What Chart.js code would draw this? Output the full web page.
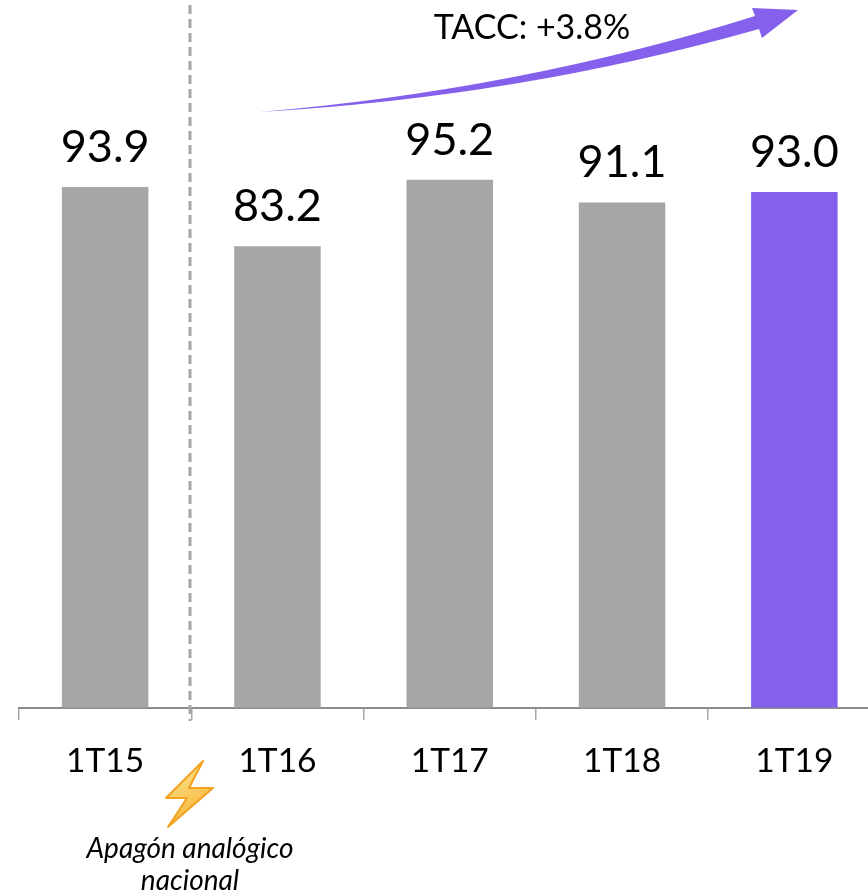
<!DOCTYPE html>
<html><head><meta charset="utf-8">
<script src="https://cdn.jsdelivr.net/npm/chart.js@4"></script>
<style>html,body{margin:0;padding:0;background:#fff;overflow:hidden;width:868px;height:896px}
#w{position:absolute;left:0;top:0;width:900px;height:896px}</style></head>
<body><div id="w"><canvas id="c" width="900" height="896"></canvas></div>
<script>
const categories = ["1T15","1T16","1T17","1T18","1T19"];
const values = [93.9,83.2,95.2,91.1,93.0];
const barColors = ["#a6a6a6","#a6a6a6","#a6a6a6","#a6a6a6","#8560ec"];
const growthLabel = "TACC: +3.8%";
const noteLines = ["Apagón analógico","nacional"];
const FONT = "Lato, Carlito, sans-serif";

const overlay = {
  id:"overlay",
  afterDatasetsDraw(chart){
    const g = chart.ctx, meta = chart.getDatasetMeta(0);
    g.save();
    g.fillStyle="#000"; g.textAlign="center"; g.textBaseline="alphabetic";
    g.font="45px "+FONT;
    meta.data.forEach((b,i)=>g.fillText(values[i].toFixed(1),b.x,b.y-25));
    g.strokeStyle="#a6a6a6"; g.lineWidth=3; g.setLineDash([9,5]);
    g.beginPath(); g.moveTo(190,5); g.lineTo(190,721); g.stroke(); g.setLineDash([]);
    g.fillStyle="#8560ec";
    g.beginPath(); g.moveTo(259,112);
    g.quadraticCurveTo(520,90,755,16);
    g.lineTo(752,8); g.lineTo(798,10); g.lineTo(762,38); g.lineTo(759,29);
    g.quadraticCurveTo(520,97,259,112);
    g.closePath(); g.fill();
    g.fillStyle="#000"; g.font="34px "+FONT;
    g.fillText(growthLabel,532,39);
    const grad=g.createLinearGradient(170,770,210,830);
    grad.addColorStop(0,"#fde48a"); grad.addColorStop(1,"#f5a623");
    g.beginPath();
    g.moveTo(203,761); g.lineTo(166,798); g.lineTo(187,798); g.lineTo(168,827);
    g.lineTo(213,788); g.lineTo(189,788); g.closePath();
    g.fillStyle=grad; g.strokeStyle="#f2a21f"; g.lineWidth=2; g.lineJoin="round";
    g.fill(); g.stroke();
    g.fillStyle="#000"; g.font="italic 28px "+FONT;
    g.fillText(noteLines[0],190,858); g.fillText(noteLines[1],190,890);
    g.restore();
  }
};

new Chart(document.getElementById("c"),{
  type:"bar",
  data:{labels:categories,datasets:[{data:values,backgroundColor:barColors,borderWidth:0,categoryPercentage:1,barPercentage:0.502}]},
  plugins:[overlay],
  options:{
    responsive:false,animation:false,
    layout:{padding:{left:19,right:19.5,top:0,bottom:94}},
    plugins:{legend:{display:false},tooltip:{enabled:false}},
    scales:{
      x:{
        grid:{display:true,drawOnChartArea:false,drawTicks:true,tickLength:12,color:"#a6a6a6",lineWidth:1.5},
        border:{display:true,color:"#8c8c8c",width:2},
        ticks:{color:"#000",font:{family:FONT,size:33.5},padding:21,maxRotation:0}
      },
      y:{display:false,min:0,max:127.6}
    }
  }
});
</script></body></html>
